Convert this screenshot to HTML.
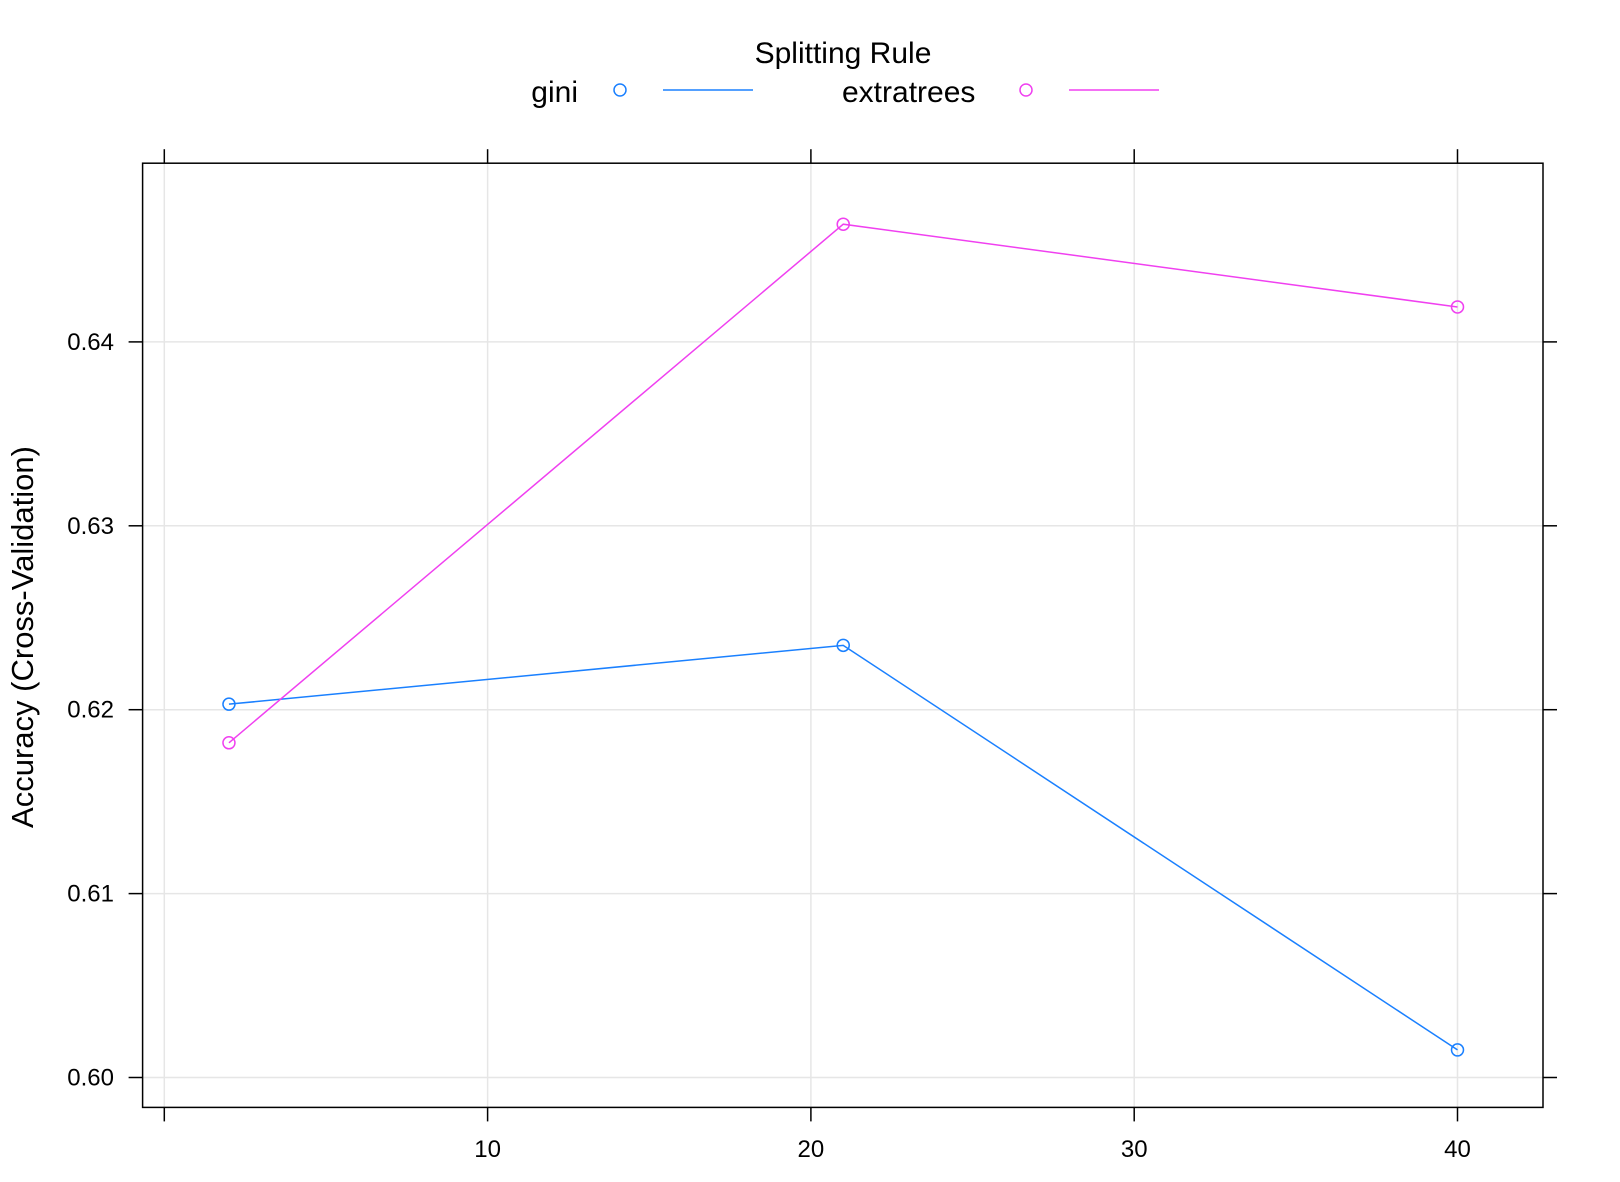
<!DOCTYPE html>
<html><head><meta charset="utf-8"><style>
body{margin:0;background:#fff}
svg{display:block;font-family:"Liberation Sans",Arial,sans-serif}
</style></head><body>
<svg id="chart" width="1620" height="1182" viewBox="0 0 1620 1182">
<text x="843" y="63" font-size="30" text-anchor="middle">Splitting Rule</text>
<g>
<text x="578" y="102" font-size="30" text-anchor="end">gini</text>
<circle cx="620" cy="90" r="6" fill="none" stroke="#1a80ff" stroke-width="1.5"/>
<line x1="663" y1="90" x2="753" y2="90" stroke="#1a80ff" stroke-width="1.5"/>
</g>
<g>
<text x="842" y="102" font-size="30">extratrees</text>
<circle cx="1026" cy="90" r="6" fill="none" stroke="#f040f0" stroke-width="1.5"/>
<line x1="1069" y1="90" x2="1159" y2="90" stroke="#f040f0" stroke-width="1.5"/>
</g>
<text transform="translate(33,637) rotate(-90)" font-size="31" text-anchor="middle">Accuracy (Cross-Validation)</text>
<g id="grid"></g>
<g id="axes"></g>
<g id="series"></g>
<rect x="142.6" y="163.2" width="1400.4" height="944.2" fill="none" stroke="#000" stroke-width="1.5"/>
</svg>
<script>
const xTicks=[0,10,20,30,40];
const yTicks=[0.60,0.61,0.62,0.63,0.64];
const yTickLabels=["0.60","0.61","0.62","0.63","0.64"];
const xValues=[2,21,40];
const giniValues=[0.6203,0.6235,0.6015];
const extratreesValues=[0.6182,0.6464,0.6419];
const L=142.6,R=1543,T=163.2,B=1107.4;
function sx(v){return 164.3+(v-0)*32.33;}
function sy(v){return 1077.5-(v-0.60)*18390;}
const NS="http://www.w3.org/2000/svg";
function mk(tag,attrs,parent){const e=document.createElementNS(NS,tag);for(const k in attrs)e.setAttribute(k,attrs[k]);parent.appendChild(e);return e;}
const grid=document.getElementById('grid'),axes=document.getElementById('axes'),series=document.getElementById('series');
xTicks.forEach(t=>{const x=sx(t);
 const g=mk('line',{x1:x,x2:x,y1:T,y2:B,stroke:'#e6e6e6','stroke-width':1.5},grid);
 
 
 mk('line',{x1:x,x2:x,y1:T-14,y2:T,stroke:'#000','stroke-width':1.5},axes);
 mk('line',{x1:x,x2:x,y1:B,y2:B+14,stroke:'#000','stroke-width':1.5},axes);
 if(t>0){const tx=mk('text',{x:x,y:1157,'font-size':24,'text-anchor':'middle'},axes);tx.textContent=t;
 
 }
});
yTicks.forEach((t,i)=>{const y=sy(t);
 const g=mk('line',{x1:L,x2:R,y1:y,y2:y,stroke:'#e6e6e6','stroke-width':1.5},grid);
 
 
 mk('line',{x1:L-14,x2:L,y1:y,y2:y,stroke:'#000','stroke-width':1.5},axes);
 mk('line',{x1:R,x2:R+14,y1:y,y2:y,stroke:'#000','stroke-width':1.5},axes);
 const tx=mk('text',{x:114,y:y+8,'font-size':24,'text-anchor':'end'},axes);tx.textContent=yTickLabels[i];
 
 
});
function drawSeries(vals,color,name){
 const pts=xValues.map((x,i)=>sx(x)+','+sy(vals[i])).join(' ');
 const pl=mk('polyline',{points:pts,fill:'none',stroke:color,'stroke-width':1.5},series);
 
 
 xValues.forEach((x,i)=>{const c=mk('circle',{cx:sx(x),cy:sy(vals[i]),r:6,fill:'none',stroke:color,'stroke-width':1.5},series);
 
 });
}
drawSeries(giniValues,'#1a80ff','gini');
drawSeries(extratreesValues,'#f040f0','extratrees');
</script>
</body></html>
